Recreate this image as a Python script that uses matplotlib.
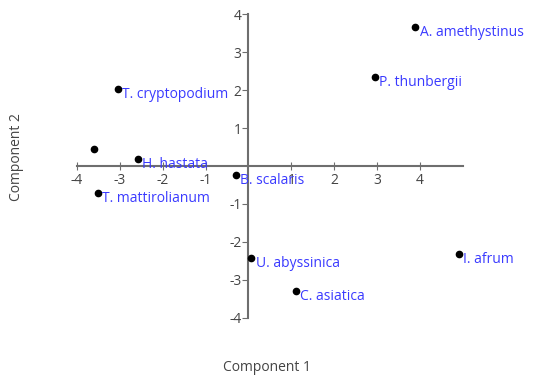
import matplotlib
matplotlib.use("Agg")
import matplotlib.pyplot as plt

plt.rcParams["axes.unicode_minus"] = False
plt.rcParams["font.family"] = ["Open Sans", "DejaVu Sans"]

# PCA scores
names = ["A. amethystinus", "P. thunbergii", "T. cryptopodium", "", "H. hastata",
         "B. scalaris", "T. mattirolianum", "U. abyssinica", "C. asiatica", "I. afrum"]
comp1 = [3.89, 2.95, -3.04, -3.6, -2.58, -0.3, -3.51, 0.07, 1.1, 4.9]
comp2 = [3.66, 2.34, 2.03, 0.45, 0.18, -0.24, -0.70, -2.42, -3.29, -2.32]
xticks = [-4, -3, -2, -1, 1, 2, 3, 4]
yticks = [-4, -3, -2, -1, 1, 2, 3, 4]

fig = plt.figure(figsize=(5.34, 3.79), dpi=100)
ax = fig.add_axes([0.144, 0.161, 0.723, 0.802])

ax.plot(comp1, comp2, "o", color="black", ms=4.5, zorder=3)
for n, x, y in zip(names, comp1, comp2):
    if n:
        ax.annotate(n, (x, y), xytext=(3, -4), textcoords="offset points",
                    va="center", ha="left", color="#3a3aff", fontsize=10)

ax.set_xlim(-4, 5)
ax.set_ylim(-4, 4)

axis_col = "#6e6e6e"
for s in ["top", "right"]:
    ax.spines[s].set_visible(False)
ax.spines["left"].set_position("zero")
ax.spines["bottom"].set_position("zero")
ax.spines["left"].set_color(axis_col)
ax.spines["bottom"].set_color(axis_col)
ax.spines["left"].set_linewidth(1.5)
ax.spines["bottom"].set_linewidth(1.5)

ax.set_xticks(xticks)
ax.set_yticks(yticks)
ax.tick_params(axis="x", direction="inout", length=6, color=axis_col,
               labelcolor="#444444", labelsize=10, pad=2)
ax.tick_params(axis="y", direction="out", length=4, color=axis_col,
               labelcolor="#444444", labelsize=10, pad=1)

fig.text(0.50, 0.03, "Component 1", ha="center", va="center", fontsize=10, color="#444444")
fig.text(0.03, 0.585, "Component 2", ha="center", va="center", rotation=90,
         fontsize=10, color="#444444")

fig.savefig("out.png", dpi=100)
